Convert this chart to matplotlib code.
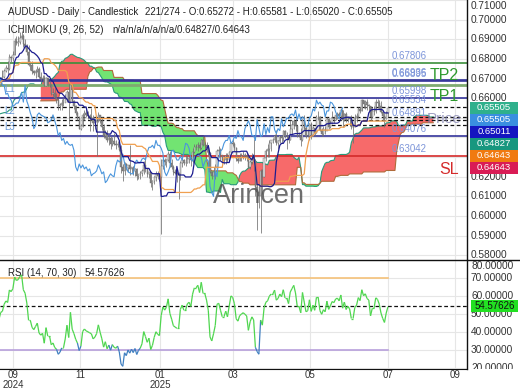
import numpy as np
import pandas as pd
import matplotlib
matplotlib.use("Agg")
import matplotlib.pyplot as plt
from matplotlib.collections import LineCollection
from matplotlib.lines import Line2D
from matplotlib.patches import Rectangle
from matplotlib.transforms import Bbox, TransformedBbox, IdentityTransform, blended_transform_factory

plt.rcParams['font.family'] = ['Liberation Sans', 'DejaVu Sans']

# ---------------------------------------------------------------- data
first_date = "2024-06-28"
last_date = "2025-07-21"
first_visible_date = "2024-09-13"
first_open = 0.6660

closes = [
    0.6670,
    0.6655, 0.6660, 0.6715, 0.6720, 0.6745,
    0.6740, 0.6740, 0.6750, 0.6770, 0.6765,
    0.6765, 0.6745, 0.6720, 0.6690, 0.6685,
    0.6645, 0.6610, 0.6575, 0.6545, 0.6545,
    0.6540, 0.6545, 0.6540, 0.6510, 0.6505,
    0.6485, 0.6545, 0.6545, 0.6595, 0.6580,
    0.6585, 0.6630, 0.6610, 0.6645, 0.6690,
    0.6725, 0.6745, 0.6750, 0.6710, 0.6790,
    0.6770, 0.6785, 0.6790, 0.6775, 0.6765,
    0.6765, 0.6700, 0.6715, 0.6740, 0.6665,
    0.6695, 0.6655, 0.6675, 0.6705, 0.6710,
    0.6740, 0.6755, 0.6750, 0.6810, 0.6805,
    0.6820, 0.6890, 0.6880, 0.6885, 0.6905,
    0.6915, 0.6875, 0.6865, 0.6835, 0.6770,
    0.6770, 0.6740, 0.6730, 0.6740, 0.6750,
    0.6710, 0.6700, 0.6705, 0.6660, 0.6705,
    0.6665, 0.6665, 0.6620, 0.6625, 0.6600,
    0.6590, 0.6560, 0.6565, 0.6575, 0.6575,
    0.6595, 0.6630, 0.6580, 0.6665, 0.6585,
    0.6560, 0.6525, 0.6500, 0.6445, 0.6460,
    0.6515, 0.6525, 0.6515, 0.6510, 0.6505,
    0.6500, 0.6475, 0.6480, 0.6490, 0.6515,
    0.6485, 0.6455, 0.6410, 0.6425, 0.6385,
    0.6395, 0.6365, 0.6380, 0.6365, 0.6360,
    0.6365, 0.6335, 0.6250, 0.6230, 0.6265,
    0.6245, 0.6260, 0.6240, 0.6250, 0.6230,
    0.6240, 0.6205, 0.6215, 0.6220, 0.6230,
    0.6260, 0.6240, 0.6215, 0.6225, 0.6170,
    0.6180, 0.6200, 0.6215, 0.6205, 0.6200,
    0.6255, 0.6285, 0.6275, 0.6285, 0.6315,
    0.6270, 0.6250, 0.6225, 0.6220, 0.6215,
    0.6215, 0.6270, 0.6285, 0.6270, 0.6270,
    0.6290, 0.6295, 0.6285, 0.6325, 0.6350,
    0.6350, 0.6360, 0.6345, 0.6385, 0.6360,
    0.6360, 0.6345, 0.6320, 0.6225, 0.6205,
    0.6225, 0.6250, 0.6330, 0.6335, 0.6310,
    0.6285, 0.6285, 0.6305, 0.6285, 0.6325,
    0.6370, 0.6365, 0.6345, 0.6290, 0.6280,
    0.6300, 0.6305, 0.6310, 0.6305, 0.6300,
    0.6250, 0.6275, 0.6290, 0.6280, 0.6150,
    0.6120, 0.6100, 0.6230, 0.6200, 0.6295,
    0.6330, 0.6340, 0.6370, 0.6385, 0.6385,
    0.6410, 0.6370, 0.6380, 0.6405, 0.6395,
    0.6435, 0.6405, 0.6405, 0.6385, 0.6445,
    0.6465, 0.6485, 0.6460, 0.6410, 0.6410,
    0.6385, 0.6490, 0.6450, 0.6405, 0.6410,
    0.6470, 0.6415, 0.6450, 0.6425, 0.6505,
    0.6505, 0.6440, 0.6420, 0.6445, 0.6435,
    0.6495, 0.6455, 0.6475, 0.6500, 0.6495,
    0.6515, 0.6520, 0.6510, 0.6540, 0.6490,
    0.6520, 0.6490, 0.6505, 0.6495, 0.6455,
    0.6455, 0.6500, 0.6510, 0.6545, 0.6535,
    0.6590, 0.6570, 0.6580, 0.6565, 0.6560,
    0.6505, 0.6535, 0.6535, 0.6580, 0.6575,
    0.6560, 0.6530, 0.6510, 0.6495, 0.6527,
    0.65505,
]

highs = [
    0.6685,
    0.6685, 0.6675, 0.6720, 0.6730, 0.6750,
    0.6760, 0.6755, 0.6760, 0.6798, 0.6790,
    0.6780, 0.6765, 0.6755, 0.6730, 0.6705,
    0.6695, 0.6650, 0.6620, 0.6580, 0.6560,
    0.6560, 0.6580, 0.6575, 0.6560, 0.6545,
    0.6520, 0.6575, 0.6590, 0.6600, 0.6610,
    0.6595, 0.6630, 0.6665, 0.6655, 0.6695,
    0.6725, 0.6750, 0.6755, 0.6760, 0.6795,
    0.6800, 0.6797, 0.6805, 0.6824, 0.6780,
    0.6780, 0.6770, 0.6725, 0.6765, 0.6765,
    0.6705, 0.6690, 0.6690, 0.6710, 0.6745,
    0.6750, 0.6770, 0.6790, 0.6825, 0.6815,
    0.6840, 0.6905, 0.6915, 0.6915, 0.6935,
    0.6942, 0.6925, 0.6900, 0.6875, 0.6870,
    0.6790, 0.6790, 0.6745, 0.6750, 0.6765,
    0.6760, 0.6735, 0.6720, 0.6720, 0.6710,
    0.6710, 0.6690, 0.6670, 0.6650, 0.6650,
    0.6625, 0.6600, 0.6575, 0.6595, 0.6600,
    0.6620, 0.6640, 0.6688, 0.6670, 0.6670,
    0.6590, 0.6565, 0.6535, 0.6510, 0.6470,
    0.6525, 0.6540, 0.6550, 0.6535, 0.6520,
    0.6550, 0.6515, 0.6495, 0.6505, 0.6530,
    0.6515, 0.6505, 0.6470, 0.6440, 0.6440,
    0.6420, 0.6410, 0.6400, 0.6425, 0.6385,
    0.6380, 0.6375, 0.6360, 0.6265, 0.6275,
    0.6270, 0.6260, 0.6360, 0.6250, 0.6255,
    0.6245, 0.6245, 0.6215, 0.6230, 0.6240,
    0.6280, 0.6300, 0.6240, 0.6225, 0.6225,
    0.6185, 0.6205, 0.6230, 0.6230, 0.6215,
    0.6290, 0.6290, 0.6295, 0.6290, 0.6330,
    0.6330, 0.6290, 0.6260, 0.6240, 0.6230,
    0.6225, 0.6280, 0.6300, 0.6290, 0.6310,
    0.6310, 0.6300, 0.6300, 0.6345, 0.6365,
    0.6365, 0.6375, 0.6375, 0.6390, 0.6408,
    0.6375, 0.6375, 0.6360, 0.6325, 0.6230,
    0.6250, 0.6265, 0.6340, 0.6355, 0.6345,
    0.6310, 0.6310, 0.6320, 0.6320, 0.6330,
    0.6375, 0.6390, 0.6375, 0.6350, 0.6310,
    0.6320, 0.6320, 0.6330, 0.6320, 0.6320,
    0.6300, 0.6285, 0.6320, 0.6390, 0.6290,
    0.6170, 0.6160, 0.6240, 0.6240, 0.6300,
    0.6340, 0.6365, 0.6385, 0.6385, 0.6395,
    0.6420, 0.6440, 0.6385, 0.6410, 0.6415,
    0.6440, 0.6440, 0.6430, 0.6420, 0.6490,
    0.6490, 0.6495, 0.6500, 0.6465, 0.6430,
    0.6450, 0.6495, 0.6515, 0.6460, 0.6445,
    0.6475, 0.6480, 0.6460, 0.6450, 0.6515,
    0.6535, 0.6510, 0.6450, 0.6460, 0.6460,
    0.6505, 0.6500, 0.6490, 0.6535, 0.6505,
    0.6525, 0.6530, 0.6530, 0.6550, 0.6540,
    0.6525, 0.6530, 0.6510, 0.6510, 0.6515,
    0.6470, 0.6520, 0.6525, 0.6555, 0.6555,
    0.6595, 0.6590, 0.6590, 0.6595, 0.6570,
    0.6560, 0.6555, 0.6560, 0.6595, 0.6595,
    0.6590, 0.6585, 0.6540, 0.6525, 0.6535,
    0.65581,
]

lows = [
    0.6650,
    0.6650, 0.6640, 0.6655, 0.6705, 0.6705,
    0.6730, 0.6720, 0.6725, 0.6735, 0.6755,
    0.6745, 0.6725, 0.6705, 0.6685, 0.6665,
    0.6640, 0.6605, 0.6570, 0.6510, 0.6530,
    0.6530, 0.6485, 0.6500, 0.6480, 0.6480,
    0.6349, 0.6480, 0.6525, 0.6535, 0.6565,
    0.6560, 0.6570, 0.6605, 0.6575, 0.6640,
    0.6680, 0.6715, 0.6715, 0.6695, 0.6700,
    0.6760, 0.6755, 0.6765, 0.6770, 0.6755,
    0.6750, 0.6695, 0.6660, 0.6700, 0.6660,
    0.6650, 0.6650, 0.6622, 0.6665, 0.6700,
    0.6705, 0.6735, 0.6720, 0.6745, 0.6785,
    0.6790, 0.6820, 0.6870, 0.6865, 0.6875,
    0.6900, 0.6860, 0.6855, 0.6820, 0.6765,
    0.6745, 0.6725, 0.6720, 0.6705, 0.6735,
    0.6705, 0.6690, 0.6685, 0.6660, 0.6660,
    0.6660, 0.6655, 0.6615, 0.6610, 0.6595,
    0.6575, 0.6540, 0.6540, 0.6540, 0.6560,
    0.6585, 0.6580, 0.6470, 0.6575, 0.6580,
    0.6545, 0.6515, 0.6490, 0.6441, 0.6440,
    0.6455, 0.6490, 0.6505, 0.6495, 0.6435,
    0.6495, 0.6435, 0.6445, 0.6305, 0.6480,
    0.6475, 0.6440, 0.6395, 0.6395, 0.6375,
    0.6360, 0.6340, 0.6355, 0.6360, 0.6340,
    0.6350, 0.6330, 0.6220, 0.6180, 0.6210,
    0.6235, 0.6225, 0.6210, 0.6220, 0.6210,
    0.6205, 0.6185, 0.6190, 0.6190, 0.6205,
    0.6215, 0.6225, 0.6200, 0.6195, 0.6150,
    0.6131, 0.6165, 0.6180, 0.6190, 0.6180,
    0.5910, 0.6240, 0.6260, 0.6250, 0.6280,
    0.6250, 0.6240, 0.6210, 0.6215, 0.6175,
    0.6088, 0.6185, 0.6250, 0.6260, 0.6255,
    0.6270, 0.6270, 0.6255, 0.6270, 0.6320,
    0.6335, 0.6330, 0.6335, 0.6340, 0.6355,
    0.6340, 0.6325, 0.6310, 0.6220, 0.6187,
    0.6200, 0.6190, 0.6245, 0.6300, 0.6285,
    0.6270, 0.6265, 0.6265, 0.6275, 0.6280,
    0.6320, 0.6355, 0.6330, 0.6280, 0.6270,
    0.6280, 0.6280, 0.6290, 0.6285, 0.6280,
    0.6245, 0.6240, 0.6265, 0.6230, 0.6100,
    0.5930, 0.6040, 0.5914, 0.6110, 0.6200,
    0.6280, 0.6300, 0.6300, 0.6330, 0.6370,
    0.6375, 0.6360, 0.6340, 0.6370, 0.6370,
    0.6380, 0.6395, 0.6340, 0.6370, 0.6385,
    0.6420, 0.6445, 0.6435, 0.6400, 0.6400,
    0.6355, 0.6380, 0.6440, 0.6395, 0.6400,
    0.6385, 0.6390, 0.6410, 0.6405, 0.6425,
    0.6490, 0.6435, 0.6410, 0.6410, 0.6420,
    0.6440, 0.6445, 0.6450, 0.6470, 0.6475,
    0.6490, 0.6495, 0.6500, 0.6500, 0.6455,
    0.6485, 0.6480, 0.6480, 0.6460, 0.6445,
    0.6372, 0.6455, 0.6480, 0.6500, 0.6525,
    0.6535, 0.6550, 0.6545, 0.6540, 0.6535,
    0.6490, 0.6500, 0.6515, 0.6525, 0.6550,
    0.6545, 0.6525, 0.6485, 0.6455, 0.6495,
    0.65020,
]

ichimoku_periods = (9, 26, 52)
rsi_period = 14
rsi_bounds = (70, 30)

# axis tick positions (bar numbers) and labels
x_tick_bars = [6.1, 44.5, 90.3, 132.1, 176.3, 221.0, 259.4]
x_tick_labels = ["09\n2024", "11", "01\n2025", "03", "05", "07", "09"]
price_ticks = [0.58, 0.59, 0.60, 0.61, 0.62, 0.63, 0.64, 0.65, 0.66, 0.67, 0.68, 0.69, 0.70, 0.71]
hidden_price_labels = [0.63, 0.64, 0.65]          # covered by the value tags
rsi_ticks = [20, 30, 40, 50, 60, 70, 80]

# horizontal levels
level_values = [0.67806, 0.66936, 0.66895, 0.65998, 0.65534, 0.64891, 0.64076, 0.63042]
level_colors = ['#3b8f3b', '#33339a', '#33339a', '#33339a', '#111111', '#111111', '#33339a', '#d42a2a']
level_styles = ['-', '-', '-', '-', '--', '--', '-', '-']
extra_dashed = [0.65020, 0.64643]
tp2_line = 0.6667

# right-hand value tags
tag_values = [0.65505, 0.65505, 0.65011, 0.64827, 0.64643, 0.64643]
tag_colors = ['#2fb08c', '#3a8ee0', '#1515c0', '#17977f', '#f07a10', '#d91c55']
rsi_last = 54.57626

title_left = "AUDUSD - Daily - Candlestick"
title_right = "221/274 - O:0.65272 - H:0.65581 - L:0.65020 - C:0.65505"
ichi_left = "ICHIMOKU (9, 26, 52)"
ichi_right = "n/a/n/a/n/a/n/a/0.64827/0.64643"

# ---------------------------------------------------------------- derived
dates = pd.bdate_range(first_date, last_date)
n = len(closes)
assert len(highs) == n and len(lows) == n and len(dates) == n, (len(closes), len(highs), len(lows), len(dates))
bar = np.arange(n) - dates.get_loc(pd.Timestamp(first_visible_date))
C = pd.Series(closes)
H = pd.Series(highs)
L = pd.Series(lows)
O = C.shift(1).fillna(first_open)

p1, p2, p3 = ichimoku_periods
tenkan = (H.rolling(p1).max() + L.rolling(p1).min()) / 2
kijun = (H.rolling(p2).max() + L.rolling(p2).min()) / 2
spanA = (tenkan + kijun) / 2
spanB = (H.rolling(p3).max() + L.rolling(p3).min()) / 2
span_x = bar + p2
chikou_x = bar - p2

delta = C.diff()
gain = delta.clip(lower=0)
loss = -delta.clip(upper=0)
ag = gain.ewm(alpha=1 / rsi_period, adjust=False).mean()
al = loss.ewm(alpha=1 / rsi_period, adjust=False).mean()
rsi = 100 - 100 / (1 + ag / al)

# ---------------------------------------------------------------- figure
W, Hh = 520, 390
fig = plt.figure(figsize=(W / 100, Hh / 100), dpi=100)
fig.patch.set_facecolor('white')
ax = fig.add_axes([0, 130 / Hh, 467 / W, 260 / Hh])
axr = fig.add_axes([0, 21 / Hh, 467 / W, 109 / Hh])

XL = (-1.38, 266.3)
for a in (ax, axr):
    a.set_xlim(*XL)
    a.set_facecolor('white')
    for s in ('left', 'top', 'bottom'):
        a.spines[s].set_visible(False)
    a.spines['right'].set_color('#111111')
    a.spines['right'].set_linewidth(1.0)
    a.tick_params(length=0, labelleft=False, labelright=False)
    a.set_xticks(x_tick_bars)
    a.grid(True, color='#e6e6e6', linewidth=0.8, zorder=0)
    a.set_axisbelow(True)
ax.tick_params(labelbottom=False)
axr.spines['bottom'].set_visible(True)
axr.spines['bottom'].set_color('#111111')
axr.set_xticklabels(x_tick_labels, fontsize=7.0, color='#333333', linespacing=0.95)
axr.tick_params(axis='x', pad=1)

ax.set_ylim(0.57761, 0.70697)
ax.set_yticks(price_ticks)
axr.set_ylim(19.56, 76.8)
axr.set_yticks(rsi_ticks)

# clouds
ax.fill_between(span_x, spanA, spanB, where=spanA >= spanB, interpolate=True,
                color='#f76a6a', linewidth=0, zorder=1)
ax.fill_between(span_x, spanA, spanB, where=spanA < spanB, interpolate=True,
                color='#72e472', linewidth=0, zorder=1)
ax.plot(span_x, spanA, color='#2a9a7a', lw=0.8, zorder=2)
ax.plot(span_x, spanB, color='#b06a3a', lw=0.8, zorder=2)

# horizontal levels
ax.axhline(tp2_line, color='#7faa70', lw=2.0, zorder=2)
for v, c, st in zip(level_values, level_colors, level_styles):
    if st == '--':
        ax.axhline(v, color=c, lw=0.9, ls=(0, (3, 2)), zorder=2)
    else:
        ax.axhline(v, color=c, lw=1.2, zorder=2)
for v in extra_dashed:
    ax.axhline(v, color='#111111', lw=0.9, ls=(0, (3, 2)), zorder=2)
for v in level_values:
    ax.annotate(f"{v:.5f}", xy=(223.3, v), xytext=(0, 1.5), textcoords='offset points',
                ha='left', va='bottom', fontsize=7, color='#7d95d9', zorder=6)

# candles
vis = bar >= -2
up = (C >= O).values
ax.vlines(bar[vis], L[vis], H[vis], color='#707070', lw=0.55, zorder=4)
body_lo = np.minimum(O, C)
body_h = np.abs(C - O)
cols = np.where(up, '#e2e2e2', '#8a8a8a')
ax.bar(bar[vis], body_h[vis], bottom=body_lo[vis], width=0.75,
       color=cols[vis], edgecolor='#6a6a6a', linewidth=0.3, zorder=4)

# ichimoku lines
ax.plot(chikou_x, C, color='#4a95dc', lw=0.8, zorder=5)
ax.plot(bar, kijun, color='#f0a050', lw=0.9, zorder=5)
ax.plot(bar, tenkan, color='#1c1c90', lw=0.9, zorder=5)

# texts on main panel
ax.text(261.7, 0.6716, "TP2", color='#2f9a2f', fontsize=11.5, ha='right', va='center', zorder=7)
ax.text(261.7, 0.6609, "TP1", color='#2f9a2f', fontsize=11.5, ha='right', va='center', zorder=7)
ax.text(261.7, 0.6237, "SL", color='#d42a2a', fontsize=11.5, ha='right', va='center', zorder=7)
ax.text(263.0, 0.6494, "Price", color='#8080b0', alpha=0.75, fontsize=11, ha='right', va='center', zorder=7)
ax.text(120.7, 0.6065, "Arincen", color='#555555', alpha=0.85, fontsize=19.5, ha='left',
        va='baseline', zorder=8)
for lab, yv in (("L1", 0.66468), ("L2", 0.65323), ("L3", 0.64527)):
    ax.text(1.0, yv, lab, color='#6a9ad8', fontsize=7, ha='left', va='center', zorder=7)

# y labels with clipping (right column)
def right_labels(a, ticks, fmt, lo, hi, skip=()):
    tr = blended_transform_factory(a.transAxes, a.transData)
    cb = TransformedBbox(Bbox([[1.0, 0.0], [1.2, 1.0]]), a.transAxes)
    for t in ticks:
        if any(abs(t - s) < 1e-9 for s in skip):
            continue
        y = min(max(t, lo), hi)
        txt = a.text(1.0 + 4 / 467, y, fmt.format(t), transform=tr, ha='left', va='center',
                     fontsize=7.3, color='#333333', clip_on=True)
        txt.set_clip_box(cb)

right_labels(ax, price_ticks, "{:.5f}", 0.57761, 0.70697, hidden_price_labels)
right_labels(axr, rsi_ticks, "{:.5f}", 19.56, 76.8)

# RSI panel
vis_r = bar >= -2
rx = bar[vis_r]
ry = rsi.values[vis_r]
pts = np.column_stack([rx, ry])
segs = np.stack([pts[:-1], pts[1:]], axis=1)
seg_cols = ['#3f7fc0' if min(a, b) < rsi_bounds[1] else '#4fd64f' for a, b in zip(ry[:-1], ry[1:])]
axr.add_collection(LineCollection(segs, colors=seg_cols, linewidths=0.9, zorder=4))
axr.plot([XL[0], bar[-1]], [rsi_bounds[0]] * 2, color='#f5c27a', lw=1.2, zorder=3)
axr.plot([XL[0], bar[-1]], [rsi_bounds[1]] * 2, color='#b8a0dc', lw=1.2, zorder=3)
axr.axhline(rsi_last, color='#111111', lw=0.9, ls=(0, (3, 2)), zorder=3)

# figure-level texts
def fx(x):
    return x / W

def fy(y):
    return 1 - y / Hh

fig.text(fx(8), fy(12), title_left, fontsize=7, color='#222222', va='center')
fig.text(fx(145), fy(12), title_right, fontsize=7, color='#222222', va='center')
fig.text(fx(8), fy(30), ichi_left, fontsize=7, color='#222222', va='center')
fig.text(fx(112), fy(30), ichi_right, fontsize=7, color='#222222', va='center')
fig.text(fx(8), fy(273), "RSI (14, 70, 30)", fontsize=7, color='#222222', va='center')
fig.text(fx(85), fy(273), f"{rsi_last:.5f}", fontsize=7, color='#222222', va='center')

# separator line across the figure
fig.add_artist(Line2D([0, 1], [fy(260), fy(260)], transform=fig.transFigure, color='#111111', lw=1.0))

# value tags
ax_right_px = ax.transAxes.transform((1, 0))[0]
y0 = ax.transData.transform((0, tag_values[0]))[1]
for k, (v, c) in enumerate(zip(tag_values, tag_colors)):
    yc = y0 - 12 * k
    fig.add_artist(Rectangle((ax_right_px + 3, yc - 6), 48, 12, transform=IdentityTransform(),
                             facecolor=c, edgecolor='none'))
    fig.text(ax_right_px + 27, yc, f"{v:.5f}", transform=IdentityTransform(), ha='center',
             va='center', fontsize=6.8, color='white')
yr = axr.transData.transform((0, rsi_last))[1]
fig.add_artist(Rectangle((ax_right_px + 4, yr - 6), 47, 12, transform=IdentityTransform(),
                         facecolor='#22e022', edgecolor='none'))
fig.text(ax_right_px + 27.5, yr, f"{rsi_last:.5f}", transform=IdentityTransform(), ha='center',
         va='center', fontsize=7.0, color='#111111')

fig.savefig("out.png", dpi=100)
